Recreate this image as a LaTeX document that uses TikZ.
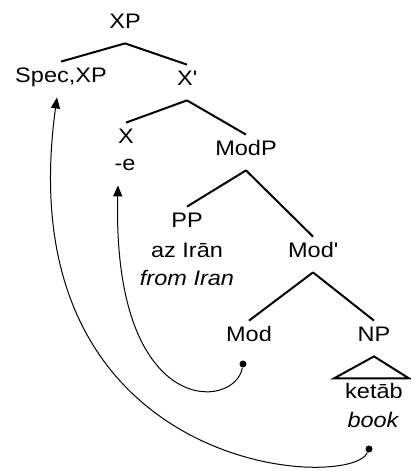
\documentclass[tikz,border=0pt]{standalone}
\usepackage{fontspec}
\setmainfont{Liberation Sans}[FakeStretch=1.12]
\usetikzlibrary{arrows.meta}

\tikzset{
  cat/.style={anchor=base, inner xsep=0pt, inner ysep=3pt, text height=7pt, text depth=4.5pt},
  br/.style={line width=1pt},
  mv/.style={line width=0.5pt, -{Triangle[width=4.5pt,length=5.5pt]}},
  trace/.style={circle, fill, inner sep=0pt, minimum size=3.5pt}
}

\begin{document}
\begin{tikzpicture}[x=0.5pt,y=-0.5pt,font=\fontsize{10.5pt}{12pt}\selectfont]
\useasboundingbox (0,0) rectangle (411,471);
\node[cat] (xp) at (125,28) {XP};
\node[cat] (spec) at (61,82) {Spec,XP};
\node[cat] (xbar) at (187,85) {X\textquotesingle};
\node[cat] (x) at (126,143) {X};
\node[cat] (e) at (125,170) {-e};
\node[cat] (modp) at (246,155) {ModP};
\node[cat] (pp) at (187,227) {PP};
\node[cat] (az) at (187,257) {az Irān};
\node[cat] (from) at (187,285) {\itshape from Iran};
\node[cat] (modbar) at (313,257) {Mod\textquotesingle};
\node[cat] (mod) at (249,341) {Mod};
\node[cat] (np) at (374,341) {NP};
\node[cat] (ketab) at (374,398) {ketāb};
\node[cat] (book) at (373,427) {\itshape book};
\node[trace] (t1) at (243,364) {};
\node[trace] (t2) at (369,449) {};
\draw[br] (xp.south) -- (spec.north);
\draw[br] (xp.south) -- (xbar.north);
\draw[br] (xbar.south) -- (x.north);
\draw[br] (xbar.south) -- (modp.north);
\draw[br] (modp.south) -- (pp.north);
\draw[br] (modp.south) -- (modbar.north);
\draw[br] (modbar.south) -- (mod.north);
\draw[br] (modbar.south) -- (np.north);
\draw[br] (np.south) -- ++(-40,22) -- ++(75,0) -- cycle;
\draw[mv] (t1) .. controls (235,410) and (112,420) .. ([xshift=-3.5pt]e.south);
\draw[mv] (t2) .. controls (350,492) and (5,475) .. ([xshift=-2pt]spec.south);
\end{tikzpicture}
\end{document}
